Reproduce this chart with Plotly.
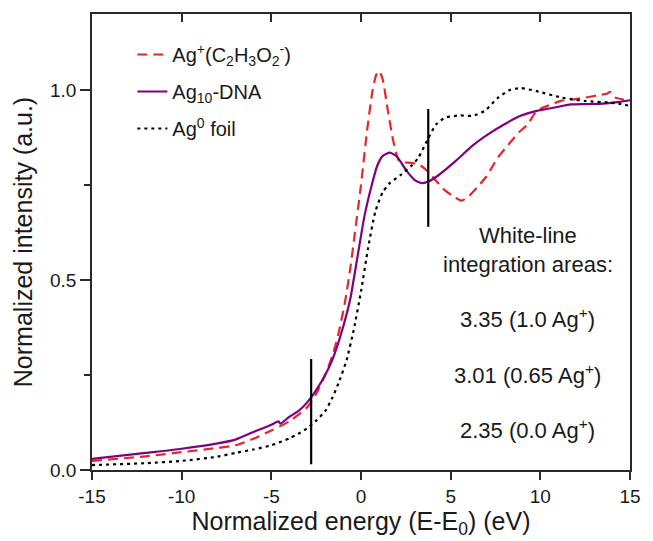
import plotly.graph_objects as go

# ---------------- data ----------------
ag_acetate_x = [-15, -12, -10, -8, -7, -6, -5, -4, -3.5, -3, -2.5, -2, -1.6, -1.25, -0.9, -0.6, -0.35,
                0, 0.33, 0.65, 0.85, 1.0, 1.2, 1.5, 1.8, 2.1, 2.4, 2.8, 3.2, 3.7, 4.2, 4.7, 5.1, 5.6,
                6.0, 6.5, 7.0, 7.6, 8.2, 8.8, 9.3, 9.8, 10.5, 11.2, 11.8, 12.5, 13.2, 13.7, 13.9, 14.2,
                14.6, 15]
ag_acetate_y = [0.024, 0.036, 0.047, 0.058, 0.065, 0.082, 0.104, 0.128, 0.145, 0.165, 0.2, 0.25, 0.30,
                0.36, 0.44, 0.53, 0.62, 0.75, 0.89, 1.0, 1.04, 1.05, 1.03, 0.945, 0.866, 0.815, 0.81,
                0.808, 0.805, 0.787, 0.76, 0.735, 0.722, 0.709, 0.72, 0.745, 0.773, 0.82, 0.855, 0.888,
                0.91, 0.945, 0.96, 0.972, 0.975, 0.98, 0.986, 0.99, 0.995, 0.98, 0.975, 0.972]

ag10_dna_x = [-15, -12, -10, -8, -7, -6, -5, -4.6, -4.5, -4, -3.5, -3, -2.5, -2, -1.6, -1.1, -0.6, -0.2,
              0.2, 0.6, 0.9, 1.2, 1.6, 2.0, 2.5, 3.0, 3.4, 3.8, 4.3, 5.3, 6.2, 7.1, 8.0, 8.9, 9.8, 10.8,
              11.7, 12.5, 13.5, 14.3, 15]
ag10_dna_y = [0.029, 0.045, 0.056, 0.07, 0.08, 0.1, 0.119, 0.128, 0.122, 0.14, 0.155, 0.178, 0.21, 0.25,
              0.29, 0.36, 0.45, 0.56, 0.67, 0.75, 0.8, 0.826, 0.835, 0.825, 0.79, 0.763, 0.755, 0.76,
              0.775, 0.814, 0.853, 0.884, 0.91, 0.932, 0.945, 0.954, 0.962, 0.963, 0.964, 0.968, 0.973]

ag_foil_x = [-15, -12, -10, -8, -7, -6, -5, -4, -3.5, -3, -2.5, -2, -1.6, -1.2, -0.8, -0.4, 0, 0.4, 0.8,
             1.2, 1.6, 2.2, 2.8, 3.2, 3.7, 4.2, 4.7, 5.5, 6.2, 6.9, 7.6, 8.3, 8.9, 9.8, 11.2, 12.5,
             13.8, 14.5, 15]
ag_foil_y = [0.013, 0.018, 0.024, 0.035, 0.045, 0.054, 0.065, 0.083, 0.095, 0.11, 0.13, 0.155, 0.19,
             0.235, 0.29, 0.37, 0.47, 0.585, 0.68, 0.73, 0.755, 0.776, 0.8, 0.822, 0.868, 0.91, 0.927,
             0.933, 0.932, 0.945, 0.978, 1.0, 1.005, 0.997, 0.98, 0.971, 0.967, 0.963, 0.958]

# integration-range markers (vertical bars)
marker_x = [-2.78, 3.75]
marker_y_low = [0.015, 0.64]
marker_y_high = [0.292, 0.95]

series_names = ["Ag<sup>+</sup>(C<sub>2</sub>H<sub>3</sub>O<sub>2</sub><sup>-</sup>)",
                "Ag<sub>10</sub>-DNA",
                "Ag<sup>0</sup> foil"]

annot_texts = ["White-line", "integration areas:",
               "3.35 (1.0 Ag<sup>+</sup>)", "3.01 (0.65 Ag<sup>+</sup>)", "2.35 (0.0 Ag<sup>+</sup>)"]
annot_x = [9.3, 9.3, 9.3, 9.3, 9.3]
annot_y = [0.618, 0.541, 0.399, 0.252, 0.108]

x_tick_vals = [-15, -10, -5, 0, 5, 10, 15]
x_tick_text = ["-15", "-10", "-5", "0", "5", "10", "15"]
y_tick_vals = [0.0, 0.5, 1.0]
y_tick_text = ["0.0", "0.5", "1.0"]
y_minor_vals = [0.25, 0.75]

# ---------------- figure ----------------
FONT = "Liberation Sans, Arial, sans-serif"
fig = go.Figure()

fig.add_trace(go.Scatter(x=ag_acetate_x, y=ag_acetate_y, mode="lines", name=series_names[0],
                         legendgroup="a", line=dict(color="#e8262a", width=2.2, dash="10px,6px",
                                                    shape="spline", smoothing=0.6)))
fig.add_trace(go.Scatter(x=ag10_dna_x, y=ag10_dna_y, mode="lines", name=series_names[1],
                         legendgroup="b", line=dict(color="#800080", width=2.2,
                                                    shape="spline", smoothing=0.6)))
fig.add_trace(go.Scatter(x=ag_foil_x, y=ag_foil_y, mode="lines", name=series_names[2],
                         legendgroup="c", line=dict(color="#000000", width=2.2, dash="3px,4px",
                                                    shape="spline", smoothing=0.6)))

for mx, ylo, yhi in zip(marker_x, marker_y_low, marker_y_high):
    fig.add_trace(go.Scatter(x=[mx, mx], y=[ylo, yhi], mode="lines", showlegend=False,
                             hoverinfo="skip", line=dict(color="#000000", width=2.2)))

# dummy trace to activate the top axis (inside ticks)
fig.add_trace(go.Scatter(x=[None], y=[None], xaxis="x2", showlegend=False, hoverinfo="skip"))

for t, ax_, ay_ in zip(annot_texts, annot_x, annot_y):
    fig.add_annotation(x=ax_, y=ay_, xref="x", yref="y", text=t, showarrow=False,
                       font=dict(family=FONT, size=22, color="#1a1a1a"), xanchor="center",
                       yanchor="middle")

axis_color = "#2a2a2a"
fig.update_layout(
    width=653, height=541,
    margin=dict(l=92, r=12, t=14, b=71),
    paper_bgcolor="white", plot_bgcolor="white",
    font=dict(family=FONT, color="#1a1a1a"),
    showlegend=True,
    legend=dict(x=0.075, y=0.954, xanchor="left", yanchor="top", bgcolor="rgba(0,0,0,0)",
                font=dict(family=FONT, size=20, color="#1a1a1a"), tracegroupgap=8,
                itemwidth=30),
    xaxis=dict(range=[-15, 15], tickvals=x_tick_vals, ticktext=x_tick_text, ticks="outside",
               ticklen=8, tickwidth=1.5, ticklabeloverflow="allow",
               tickcolor=axis_color, showline=True, linecolor=axis_color, linewidth=1.5,
               mirror=True, showgrid=False, zeroline=False,
               tickfont=dict(family=FONT, size=19, color="#1a1a1a"),
               title=dict(text="Normalized energy (E-E<sub>0</sub>) (eV)",
                          font=dict(family=FONT, size=25, color="#1a1a1a"), standoff=4)),
    xaxis2=dict(range=[-15, 15], overlaying="x", side="top", tickvals=x_tick_vals,
                ticks="inside", ticklen=8, tickwidth=1.5, tickcolor=axis_color,
                showticklabels=False, showline=False, showgrid=False, zeroline=False),
    yaxis=dict(range=[0, 1.2], tickvals=y_tick_vals, ticktext=y_tick_text, ticks="outside",
               ticklen=10, tickwidth=1.5, tickcolor=axis_color, showline=True,
               linecolor=axis_color, linewidth=1.5, mirror=True, showgrid=False, zeroline=False,
               ticklabeloverflow="allow",
               minor=dict(tickvals=y_minor_vals, ticks="outside", ticklen=6, tickwidth=1.5,
                          tickcolor=axis_color),
               tickfont=dict(family=FONT, size=19, color="#1a1a1a"),
               title=dict(text="Normalized intensity (a.u.)",
                          font=dict(family=FONT, size=25, color="#1a1a1a"), standoff=10)),
)

fig.write_html("out.html", config={"displayModeBar": False},
               post_script="document.body.style.margin='0';document.body.style.overflow='hidden';")
